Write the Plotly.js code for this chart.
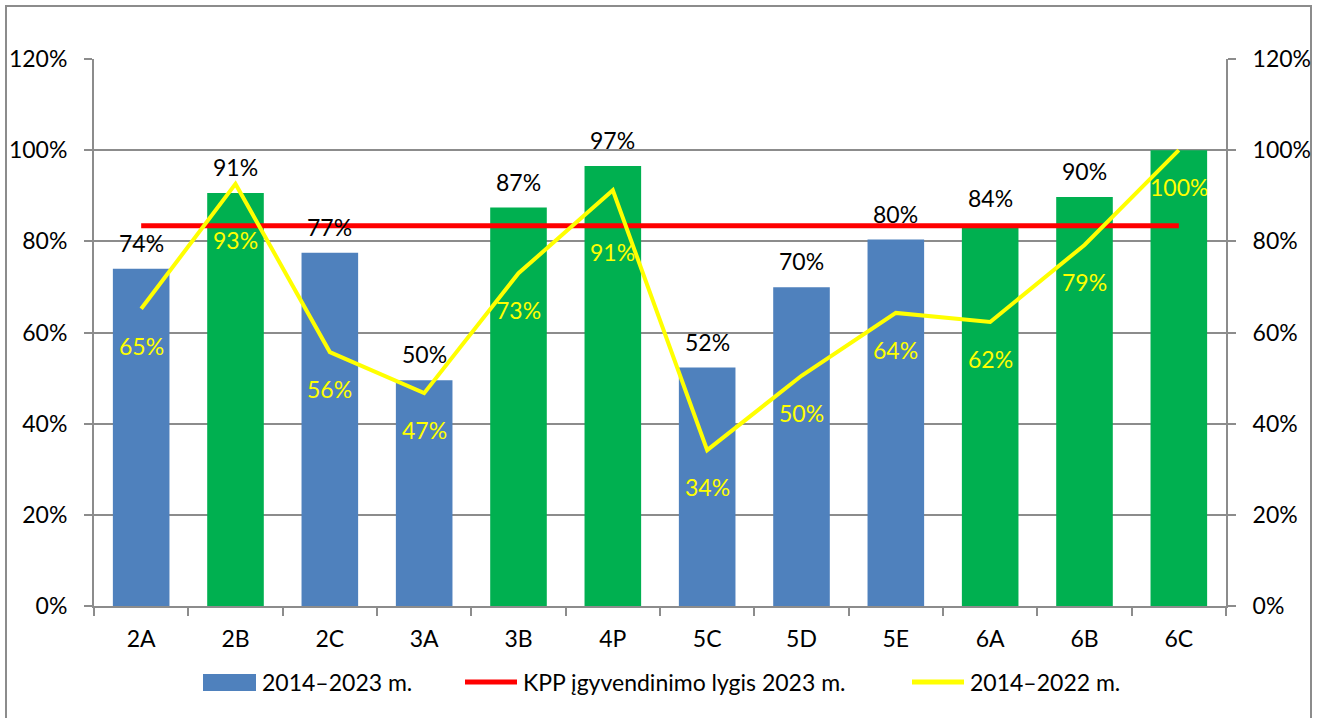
<!DOCTYPE html>
<html>
<head>
<meta charset="utf-8">
<script src="https://cdn.plot.ly/plotly-3.0.1.min.js"></script>
<style>
  html, body { margin: 0; padding: 0; background: #fff; }
  #chart { width: 1321px; height: 718px; }
</style>
</head>
<body>
<div id="chart"></div>
<script>
// ---- data ----
const categories = ['2A', '2B', '2C', '3A', '3B', '4P', '5C', '5D', '5E', '6A', '6B', '6C'];
const values2023 = [0.74, 0.906, 0.775, 0.495, 0.874, 0.965, 0.523, 0.699, 0.804, 0.838, 0.897, 1.0];
const barGroup = ['blue', 'green', 'blue', 'blue', 'green', 'green', 'blue', 'blue', 'blue', 'green', 'green', 'green'];
const barLabels = ['74%', '91%', '77%', '50%', '87%', '97%', '52%', '70%', '80%', '84%', '90%', ''];
const kppLevel = 0.834;
const values2022 = [0.652, 0.926, 0.557, 0.467, 0.730, 0.912, 0.342, 0.505, 0.643, 0.623, 0.792, 1.0];
const lineLabels = ['65%', '93%', '56%', '47%', '73%', '91%', '34%', '50%', '64%', '62%', '79%', '100%'];
const seriesNames = ['2014–2023 m.', 'KPP įgyvendinimo lygis 2023 m.', '2014–2022 m.'];

// ---- styles ----
const FONT = 'Lato, "Open Sans", sans-serif';
const FS = 23;
const colorMap = { blue: '#4F81BD', green: '#00B050' };
const RED = '#FF0000';
const YELLOW = '#FFFF00';
const GRID = '#8c8c8c';
const lineLabelShift = [-37, -56, -37, -37, -37, -62, -37, -37, -37, -37, -37, -37];

// plot area in pixels (for paper-coordinate conversion of the legend / frame)
const PL = 94, PR = 1226, PT = 59, PB = 606;
const px = v => (v - PL) / (PR - PL);
const py = v => (PB - v) / (PB - PT);

const traces = [
  {
    type: 'bar',
    name: seriesNames[0],
    x: categories,
    y: values2023,
    marker: { color: barGroup.map(g => colorMap[g]) },
    width: 0.6,
    hoverinfo: 'none'
  },
  {
    type: 'scatter',
    mode: 'lines',
    name: seriesNames[1],
    x: categories,
    y: categories.map(() => kppLevel),
    line: { color: RED, width: 5 },
    hoverinfo: 'none'
  },
  {
    type: 'scatter',
    mode: 'lines',
    name: seriesNames[2],
    x: categories,
    y: values2022,
    yaxis: 'y2',
    line: { color: YELLOW, width: 4 },
    hoverinfo: 'none'
  }
];

const annotations = [];
categories.forEach((c, i) => {
  if (barLabels[i]) {
    annotations.push({
      x: c, y: values2023[i], xref: 'x', yref: 'y',
      text: barLabels[i], showarrow: false, yshift: 26,
      font: { family: FONT, size: FS, color: '#000' }
    });
  }
  annotations.push({
    x: c, y: values2022[i], xref: 'x', yref: 'y2',
    text: lineLabels[i], showarrow: false, yshift: lineLabelShift[i],
    font: { family: FONT, size: FS, color: YELLOW }
  });
});

// custom legend (swatch shapes + text)
const legendY = 682;
const legendItems = [
  { text: seriesNames[0], textX: 260 },
  { text: seriesNames[1], textX: 521 },
  { text: seriesNames[2], textX: 968 }
];
legendItems.forEach(it => {
  annotations.push({
    xref: 'paper', yref: 'paper', x: px(it.textX), y: py(legendY),
    xanchor: 'left', yanchor: 'middle', text: it.text, showarrow: false,
    font: { family: FONT, size: FS, color: '#000' }
  });
});

const shapes = [
  {
    type: 'rect', xref: 'paper', yref: 'paper',
    x0: px(6), x1: px(1311), y0: py(740), y1: py(6),
    line: { color: GRID, width: 2 },
    fillcolor: 'rgba(0,0,0,0)',
    layer: 'below'
  },
  {
    type: 'rect', xref: 'paper', yref: 'paper',
    x0: px(203), x1: px(256), y0: py(691), y1: py(674),
    line: { width: 0 }, fillcolor: colorMap.blue
  },
  {
    type: 'line', xref: 'paper', yref: 'paper',
    x0: px(465), x1: px(517), y0: py(legendY), y1: py(legendY),
    line: { color: RED, width: 5 }
  },
  {
    type: 'line', xref: 'paper', yref: 'paper',
    x0: px(912), x1: px(964), y0: py(legendY), y1: py(legendY),
    line: { color: YELLOW, width: 5 }
  }
];

const yAxisCommon = {
  range: [0, 1.2],
  dtick: 0.2,
  tickformat: '.0%',
  ticks: 'outside',
  ticklen: 8,
  tickcolor: GRID,
  tickwidth: 2,
  showline: true,
  linecolor: GRID,
  linewidth: 2,
  zeroline: false,
  tickfont: { family: FONT, size: FS, color: '#000' },
  ticklabelstandoff: 12,
  fixedrange: true
};

const layout = {
  width: 1321,
  height: 718,
  margin: { l: PL, r: 1321 - PR, t: PT, b: 718 - PB },
  paper_bgcolor: '#fff',
  plot_bgcolor: '#fff',
  font: { family: FONT, size: FS, color: '#000' },
  showlegend: false,
  xaxis: {
    type: 'category',
    tickson: 'boundaries',
    ticks: 'outside',
    ticklen: 8,
    tickcolor: GRID,
    tickwidth: 2,
    showline: true,
    linecolor: GRID,
    linewidth: 2,
    showgrid: false,
    tickfont: { family: FONT, size: FS, color: '#000' },
    ticklabelstandoff: 11,
    fixedrange: true
  },
  yaxis: Object.assign({}, yAxisCommon, {
    side: 'left',
    showgrid: true,
    gridcolor: GRID,
    gridwidth: 2
  }),
  yaxis2: Object.assign({}, yAxisCommon, {
    side: 'right',
    overlaying: 'y',
    showgrid: false
  }),
  annotations: annotations,
  shapes: shapes
};

Plotly.newPlot('chart', traces, layout, { staticPlot: true, displayModeBar: false });
</script>
</body>
</html>
